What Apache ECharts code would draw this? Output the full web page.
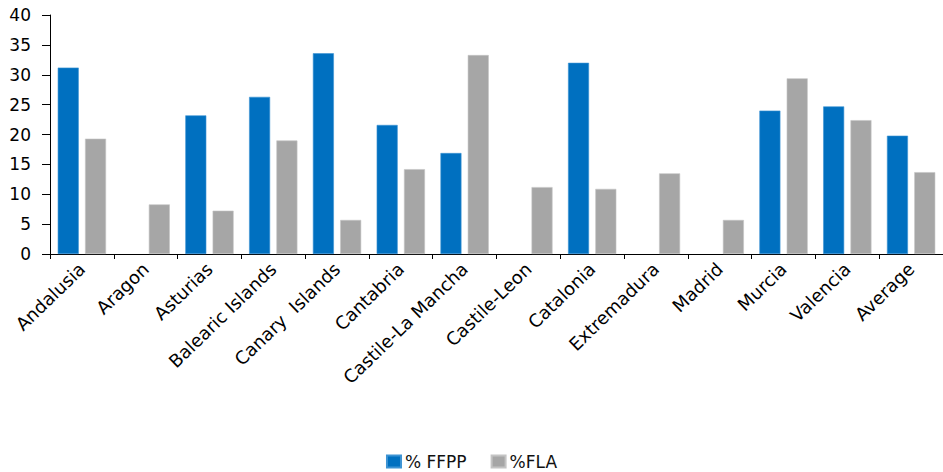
<!DOCTYPE html>
<html>
<head>
<meta charset="utf-8">
<script src="https://cdn.jsdelivr.net/npm/echarts@6/dist/echarts.min.js"></script>
<style>
  html, body { margin: 0; padding: 0; background: #fff; }
  #chart { width: 943px; height: 472px; }
</style>
</head>
<body>
<div id="chart"></div>
<script>
const regions = [
  "Andalusia", "Aragon", "Asturias", "Balearic Islands", "Canary  Islands",
  "Cantabria", "Castile-La Mancha", "Castile-Leon", "Catalonia", "Extremadura",
  "Madrid", "Murcia", "Valencia", "Average",
];
const ffpp = [31.2, null, 23.2, 26.3, 33.6, 21.6, 16.9, null, 32.0, null, null, 24.0, 24.7, 19.8];
const fla = [19.3, 8.3, 7.25, 19.0, 5.7, 14.2, 33.3, 11.2, 10.9, 13.5, 5.7, 29.4, 22.4, 13.7];
const yTicks = [0, 40, 5];

const chart = echarts.init(document.getElementById("chart"), null, { renderer: "svg" });

const font = "'DejaVu Sans', sans-serif";

chart.setOption({
  animation: false,
  textStyle: { fontFamily: font },
  grid: {
    left: 50,
    top: 15,
    width: 897,
    height: 239,
    containLabel: false,
  },
  legend: {
    bottom: -3,
    left: "center",
    itemWidth: 14,
    itemHeight: 12,
    itemGap: 24,
    icon: "rect",
    textStyle: { fontSize: 17, color: "#111", fontFamily: font, padding: [0, 0, 0, -1] },
    data: ["% FFPP", "%FLA"],
  },
  xAxis: {
    type: "category",
    data: regions,
    axisLine: { lineStyle: { color: "#000", width: 1 } },
    axisTick: { show: true, length: 5, lineStyle: { color: "#000" } },
    axisLabel: {
      rotate: 44,
      interval: 0,
      margin: 12,
      fontSize: 18,
      color: "#000",
      fontFamily: font,
    },
  },
  yAxis: {
    type: "value",
    min: yTicks[0],
    max: yTicks[1],
    interval: yTicks[2],
    splitLine: { show: false },
    axisLine: { show: true, lineStyle: { color: "#000", width: 1 } },
    axisTick: { show: true, length: 8, lineStyle: { color: "#000" } },
    axisLabel: { fontSize: 17, color: "#000", margin: 19, fontFamily: font },
  },
  series: [
    {
      name: "% FFPP",
      type: "bar",
      data: ffpp,
      barWidth: 21,
      barGap: "30%",
      itemStyle: { color: "#0070C0", borderColor: "#3d93d3", borderWidth: 0.6 },
    },
    {
      name: "%FLA",
      type: "bar",
      data: fla,
      barWidth: 21,
      itemStyle: { color: "#A6A6A6", borderColor: "#c4c4c4", borderWidth: 0.6 },
    },
  ],
});
</script>
</body>
</html>
